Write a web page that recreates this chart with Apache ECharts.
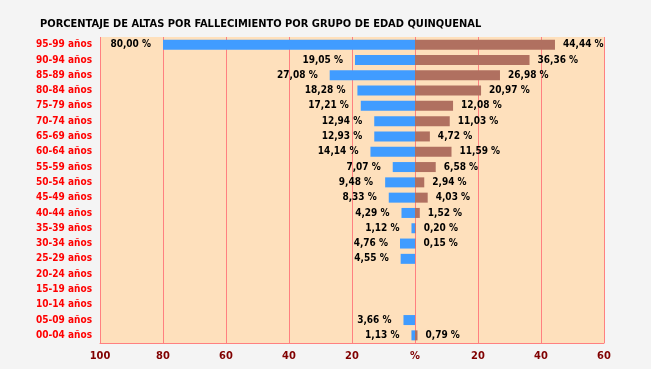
<!DOCTYPE html>
<html>
<head>
<meta charset="utf-8">
<script src="https://cdn.jsdelivr.net/npm/echarts@6/dist/echarts.min.js"></script>
<style>
html,body{margin:0;padding:0;background:#ffffff;}
#c{width:651px;height:369px;}
</style>
</head>
<body>
<div id="c"></div>
<script>
const categories = ['95-99 años','90-94 años','85-89 años','80-84 años','75-79 años','70-74 años','65-69 años','60-64 años','55-59 años','50-54 años','45-49 años','40-44 años','35-39 años','30-34 años','25-29 años','20-24 años','15-19 años','10-14 años','05-09 años','00-04 años'];
const leftValues = [80.00,19.05,27.08,18.28,17.21,12.94,12.93,14.14,7.07,9.48,8.33,4.29,1.12,4.76,4.55,null,null,null,3.66,1.13];
const rightValues = [44.44,36.36,26.98,20.97,12.08,11.03,4.72,11.59,6.58,2.94,4.03,1.52,0.20,0.15,null,null,null,null,null,0.79];
const titleText = 'PORCENTAJE DE ALTAS POR FALLECIMIENTO POR GRUPO DE EDAD QUINQUENAL';

const FONT = "'DejaVu Sans Condensed', 'Liberation Sans Narrow', sans-serif";
const fmt = p => Math.abs(p.value).toFixed(2).replace('.', ',') + ' %';

const chart = echarts.init(document.getElementById('c'), null, {renderer:'canvas'});
chart.setOption({
  backgroundColor: '#f4f4f4',
  animation: false,
  title: {
    text: titleText,
    left: 35, top: 14,
    textStyle: {fontFamily: FONT, fontSize: 11, fontWeight: 'bold', color: '#000'}
  },
  grid: {left: 100, right: 47, top: 37, bottom: 26, show: true, backgroundColor: '#fee0bc', borderWidth: 0, containLabel: false},
  xAxis: {
    type: 'value', min: -100, max: 60, interval: 20,
    axisLine: {show: true, lineStyle: {color: '#ff8080', width: 1}},
    axisTick: {show: false},
    splitLine: {show: true, lineStyle: {color: '#ff8080', width: 1}},
    axisLabel: {
      color: '#800000', fontFamily: FONT, fontSize: 11, fontWeight: 'bold', margin: 8,
      formatter: v => v === 0 ? '%' : String(Math.abs(v))
    }
  },
  yAxis: {
    type: 'category', data: categories, inverse: true,
    axisLine: {show: false}, axisTick: {show: false}, splitLine: {show: false},
    axisLabel: {interval: 0, color: '#ff0000', fontFamily: FONT, fontSize: 10, fontWeight: 'bold', margin: 8}
  },
  series: [
    {
      type: 'bar', name: 'left', barWidth: 10, barGap: '-100%',
      data: leftValues.map(v => v == null ? null : -v),
      itemStyle: {color: '#409cff'},
      label: {show: true, position: 'left', distance: 12, formatter: fmt, color: '#000', fontFamily: FONT, fontSize: 10, fontWeight: 'bold'}
    },
    {
      type: 'bar', name: 'right', barWidth: 10, barGap: '-100%',
      data: rightValues,
      itemStyle: {color: '#b07060'},
      label: {show: true, position: 'right', distance: 8, formatter: fmt, color: '#000', fontFamily: FONT, fontSize: 10, fontWeight: 'bold'}
    }
  ]
});
</script>
</body>
</html>
